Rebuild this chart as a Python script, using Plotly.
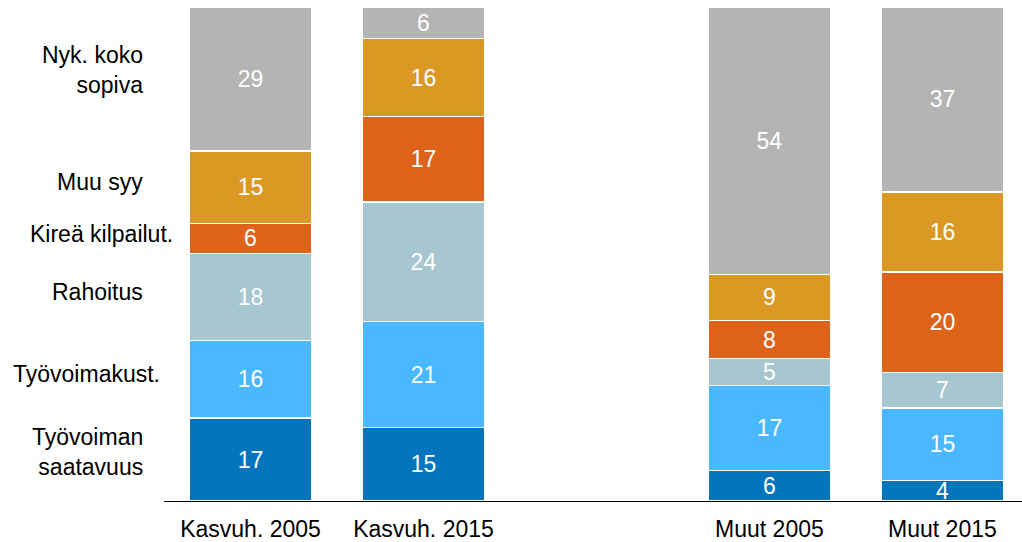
import plotly.graph_objects as go

# Ryhmät (tyhjä väli keskellä)
groups = ["Kasvuh. 2005", "Kasvuh. 2015", "Muut 2005", "Muut 2015"]
group_pos = [0, 1, 3, 4]

# Syyt alhaalta ylös
reasons = ["Työvoiman<br>saatavuus", "Työvoimakust.", "Rahoitus",
           "Kireä kilpailut.", "Muu syy", "Nyk. koko<br>sopiva"]
colors = ["#0474BC", "#4AB8FF", "#A6C6D0", "#DE631A", "#DB9924", "#B4B4B4"]

# Osuudet (%) ryhmittäin, sama järjestys kuin reasons
saatavuus = [16.8, 14.9, 6.2, 4.2]
kustannus = [15.7, 21.4, 17.2, 14.6]
rahoitus = [17.6, 24.2, 5.4, 7.2]
kilpailu = [6.1, 17.3, 7.7, 20.4]
muu_syy = [14.7, 15.8, 9.4, 16.2]
koko_sopiva = [29.1, 6.4, 54.1, 37.4]

series = [saatavuus, kustannus, rahoitus, kilpailu, muu_syy, koko_sopiva]

FONT = "Liberation Sans, Arial, sans-serif"
W, H = 1022, 542
ML = 164

fig = go.Figure()
for name, vals, col in zip(reasons, series, colors):
    fig.add_trace(go.Bar(
        x=group_pos, y=vals, name=name, width=0.71,
        marker=dict(color=col, line=dict(color="white", width=1.5)),
        texttemplate="%{y:.0f}", textposition="inside",
        insidetextanchor="middle", textangle=0,
        textfont=dict(family=FONT, size=23, color="white"),
        hoverinfo="skip",
    ))

# Selitteet vasemmalle ensimmäisen pylvään osien kohdalle (x pikseleinä)
label_x = [145, 162, 145, 175, 145, 145]
label_dy = [1.5, 1, 1, 1, 1, 1.8]
base = 0
for name, vals, lx, dy in zip(reasons, series, label_x, label_dy):
    mid = base + vals[0] / 2 + dy
    base += vals[0]
    fig.add_annotation(
        x=(lx - ML) / (W - ML), xref="paper", y=mid, yref="y",
        text=name, showarrow=False,
        xanchor="right", yanchor="middle", align="right",
        font=dict(family=FONT, size=23, color="black"),
    )

fig.update_layout(
    barmode="stack", width=W, height=H,
    margin=dict(l=ML, r=0, t=7, b=41),
    paper_bgcolor="white", plot_bgcolor="white",
    showlegend=False,
    uniformtext=dict(minsize=23, mode="show"),
    font=dict(family=FONT, size=23, color="black"),
)
fig.update_xaxes(
    range=[-0.5, 4.46], tickvals=group_pos, ticktext=groups,
    showline=True, linecolor="black", linewidth=1.2,
    showgrid=False, zeroline=False,
    ticks="outside", ticklen=7, tickcolor="rgba(0,0,0,0)",
    tickfont=dict(family=FONT, size=23, color="black"),
)
fig.update_yaxes(range=[0, 100], visible=False)

fig.write_html("out.html", config={"displayModeBar": False},
               post_script="document.body.style.margin='0';")
